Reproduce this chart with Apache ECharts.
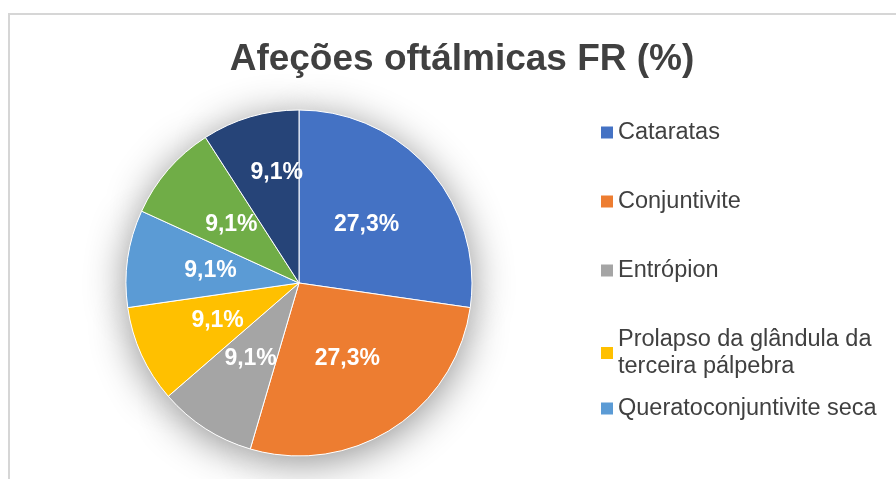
<!DOCTYPE html>
<html lang="pt">
  <head>
    <meta charset="UTF-8" />
    <script src="https://cdn.jsdelivr.net/npm/echarts@6/dist/echarts.min.js"></script>
    <title>Afeções oftálmicas FR (%)</title>
    <style>
      body {
        margin: 0;
        background: #fff;
        overflow: hidden;
      }
      #frame {
        position: absolute;
        left: 8px;
        top: 13px;
        width: 960px;
        height: 520px;
        border: 2px solid #d6d6d6;
      }
      #container {
        position: absolute;
        left: 0;
        top: 0;
        width: 896px;
        height: 479px;
      }
    </style>
  </head>
  <body>
    <div id="frame"></div>
    <div id="container"></div>
    <script>
      const titleText = "Afeções oftálmicas FR (%)";
      const categories = [
        "Cataratas",
        "Conjuntivite",
        "Entrópion",
        "Prolapso da glândula da terceira pálpebra",
        "Queratoconjuntivite seca",
        "Outra afeção 1",
        "Outra afeção 2",
      ];
      const values = [27.3, 27.3, 9.1, 9.1, 9.1, 9.1, 9.1];
      const colors = ["#4472C4", "#ED7D31", "#A5A5A5", "#FFC000", "#5B9BD5", "#70AD47", "#264478"];

      const font = "Liberation Sans, Arial, sans-serif";
      const center = [299, 283];
      const radius = 173;

      // word wrap for legend names (no leading space on the new line)
      function wrap(name, maxChars) {
        let lines = [];
        let line = "";
        name.split(" ").forEach((w) => {
          if (line && (line + " " + w).length > maxChars) {
            lines.push(line);
            line = w;
          } else {
            line = line ? line + " " + w : w;
          }
        });
        lines.push(line);
        return lines.join("\n");
      }

      var chart = echarts.init(document.getElementById("container"), null, { renderer: "canvas" });

      var legendText = {
        color: "#404040",
        fontFamily: font,
        fontSize: 23.5,
        lineHeight: 27,
      };

      var option = {
        animation: false,
        title: {
          text: titleText,
          left: 457,
          top: 36,
          textAlign: "center",
          textStyle: { color: "#404040", fontFamily: font, fontSize: 37, fontWeight: "bold" },
        },
        legend: [
          {
            orient: "vertical",
            left: 601,
            top: 119,
            padding: 0,
            icon: "rect",
            itemWidth: 12,
            itemHeight: 12,
            itemGap: 42,
            selectedMode: false,
            itemStyle: { borderWidth: 0 },
            data: categories.slice(0, 4),
            formatter: (name) => wrap(name, 24),
            textStyle: legendText,
          },
          {
            orient: "vertical",
            left: 601,
            top: 395,
            padding: 0,
            icon: "rect",
            itemWidth: 12,
            itemHeight: 12,
            selectedMode: false,
            itemStyle: { borderWidth: 0 },
            data: categories.slice(4, 5),
            textStyle: legendText,
          },
        ],
        series: [
          {
            type: "pie",
            z: 3,
            center: center,
            radius: radius,
            startAngle: 90,
            clockwise: true,
            data: categories.map((name, i) => ({
              name: name,
              value: values[i],
              itemStyle: { color: colors[i] },
            })),
            itemStyle: { borderColor: "#fff", borderWidth: 1 },
            label: {
              show: true,
              position: "inner",
              color: "#fff",
              fontFamily: font,
              fontSize: 23,
              fontWeight: "bold",
              formatter: (p) => p.value.toFixed(1).replace(".", ",") + "%",
            },
            labelLayout: function (params) {
              if (params.dataIndex === 6) {
                return { dy: -24, dx: 3 };
              }
            },
            emphasis: { disabled: true },
          },
          {
            // soft shadow under the pie
            type: "pie",
            z: 1,
            silent: true,
            center: center,
            radius: radius,
            data: categories.map((name, i) => ({ name: name, value: values[i] })),
            itemStyle: {
              color: "#ffffff",
              shadowBlur: 40,
              shadowColor: "rgba(0,0,0,0.45)",
              shadowOffsetY: 6,
            },
            label: { show: false },
            labelLine: { show: false },
            emphasis: { disabled: true },
          },
        ],
      };

      chart.setOption(option);
      window.addEventListener("resize", chart.resize);
    </script>
  </body>
</html>
